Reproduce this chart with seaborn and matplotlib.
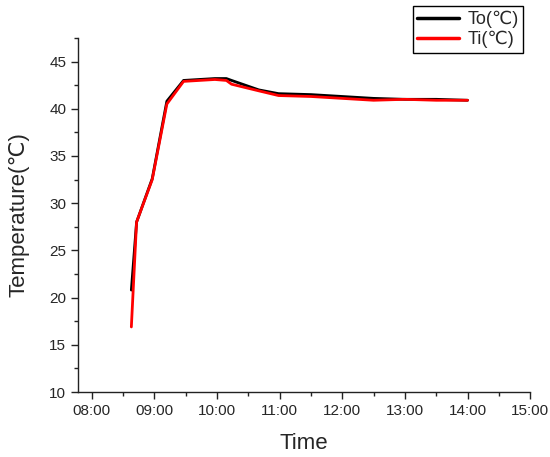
import pandas as pd
import seaborn as sns
import matplotlib
matplotlib.use("Agg")
import matplotlib.pyplot as plt
import matplotlib.dates as mdates
from matplotlib.ticker import MultipleLocator

# values
times = ["08:38", "08:43", "08:58", "09:12", "09:28", "09:58", "10:09", "10:14",
         "10:40", "10:59", "11:30", "12:00", "12:30", "13:00", "13:30", "14:00"]
to_vals = [20.8, 28.0, 32.6, 40.8, 43.0, 43.2, 43.2, 43.0,
           42.0, 41.6, 41.5, 41.3, 41.1, 41.0, 41.0, 40.9]
ti_vals = [16.9, 28.0, 32.5, 40.5, 42.9, 43.1, 43.0, 42.6,
           41.9, 41.4, 41.3, 41.1, 40.9, 41.0, 40.9, 40.9]

day = "2020-01-01 "
t = pd.to_datetime([day + s for s in times])
df = pd.concat([
    pd.DataFrame({"Time": t, "Temp": to_vals, "series": "To(℃)"}),
    pd.DataFrame({"Time": t, "Temp": ti_vals, "series": "Ti(℃)"}),
])

sns.set_style("ticks")
plt.rcParams["font.family"] = ["Liberation Sans", "DejaVu Sans"]

fig = plt.figure(figsize=(5.5, 4.57), dpi=100)
ax = fig.add_axes([0.142, 0.142, 0.822, 0.775])

sns.lineplot(data=df, x="Time", y="Temp", hue="series",
             palette={"To(℃)": "black", "Ti(℃)": "red"},
             linewidth=2, sort=False, ax=ax)

ax.set_xlim(pd.Timestamp(day + "07:47"), pd.Timestamp(day + "15:00"))
ax.set_ylim(10, 47.5)
ax.xaxis.set_major_locator(mdates.HourLocator())
ax.xaxis.set_minor_locator(mdates.MinuteLocator(byminute=[30]))
ax.xaxis.set_major_formatter(mdates.DateFormatter("%H:%M"))
ax.yaxis.set_major_locator(MultipleLocator(5))
ax.yaxis.set_minor_locator(MultipleLocator(2.5))

ax.tick_params(which="major", direction="out", length=5, width=1, labelsize=11, color="#222222")
ax.tick_params(which="minor", direction="out", length=3, width=1, color="#222222")
for s in ["left", "bottom"]:
    ax.spines[s].set_color("#222222")
    ax.spines[s].set_linewidth(1)
sns.despine(ax=ax)

ax.set_xlabel("Time", fontsize=16, labelpad=11)
ax.set_ylabel("Temperature(℃)", fontsize=16, labelpad=14)

leg = ax.legend(loc="upper right", bbox_to_anchor=(1.005, 1.115), fontsize=13,
                frameon=True, fancybox=False, edgecolor="black", framealpha=1,
                handlelength=2.3, borderpad=0.25, labelspacing=0.15, handletextpad=0.5)
leg.get_frame().set_linewidth(1)
for line in leg.get_lines():
    line.set_linewidth(2.5)

fig.savefig("out.png", dpi=100)
